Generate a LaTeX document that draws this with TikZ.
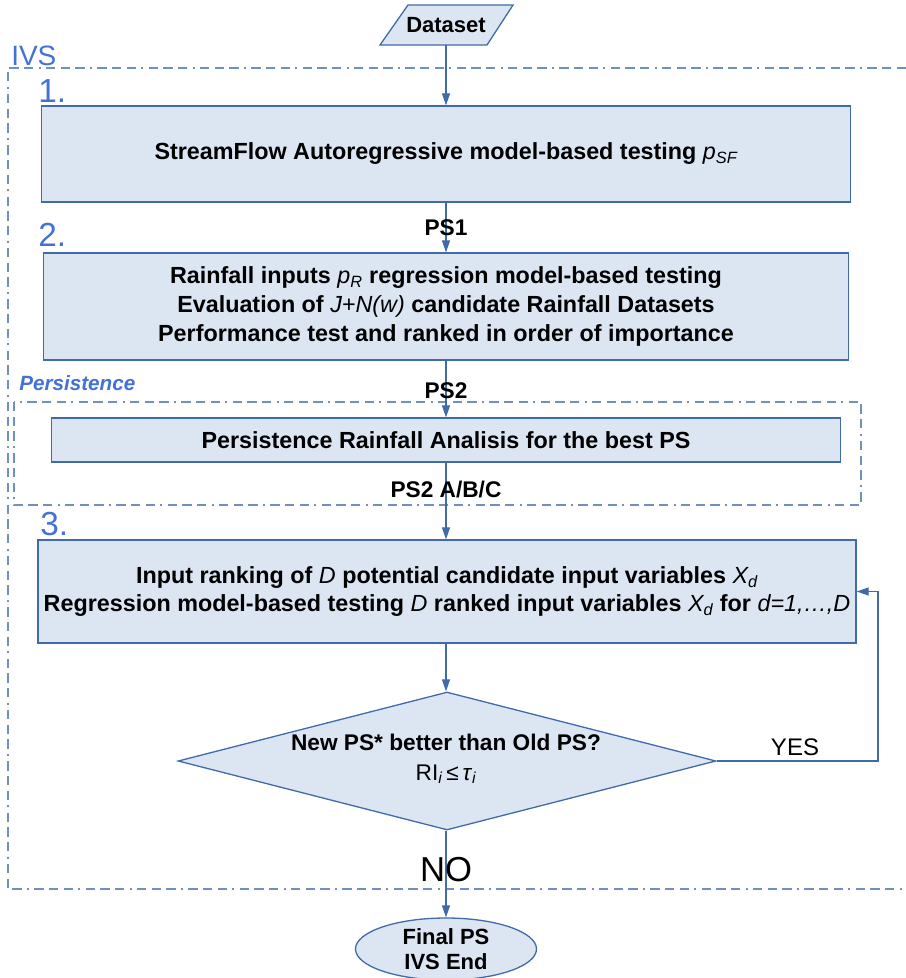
\documentclass[tikz,border=0pt]{standalone}
\usepackage{fontspec}
\setmainfont{Liberation Sans}
\usetikzlibrary{arrows.meta,shapes.geometric}
\newlength\upx \setlength\upx{0.75pt}
\definecolor{boxfill}{HTML}{DCE6F2}
\definecolor{boxline}{HTML}{416BA8}
\definecolor{lblblue}{HTML}{4471D8}
\definecolor{dashblue}{HTML}{7090C0}
\begin{document}
\begin{tikzpicture}[x=0.75pt,y=-0.75pt,
  box/.style={draw=boxline, fill=boxfill, line width=1.3\upx, inner sep=0pt, align=center,
    font=\bfseries\fontsize{17.5}{21.5}\selectfont},
  arr/.style={draw=boxline, line width=1.2\upx, -{Triangle[length=9pt,width=6pt]}},
  dashdot/.style={draw=dashblue, line width=1.4\upx,
    dash pattern=on 7pt off 4pt on 7pt off 4pt on 7pt off 4pt on 1.5pt off 4pt},
  lbl/.style={font=\bfseries\fontsize{17}{20}\selectfont, inner sep=0pt},
  numlbl/.style={text=lblblue, font=\fontsize{25}{25}\selectfont, inner sep=0pt, anchor=south west}
]
\useasboundingbox (0,0) rectangle (906,978);

% outer IVS frame (open at the right edge)
\draw[dashdot] (906,68) -- (8,68) -- (8,889) -- (906,889);
\node[text=lblblue, font=\fontsize{21}{21}\selectfont, inner sep=0pt, anchor=south west] (ivs) at (11,66) {IVS};

% persistence frame
\draw[dashdot] (14,402) rectangle (861,505);
\node[text=lblblue, font=\bfseries\itshape\fontsize{15.5}{16}\selectfont, inner sep=0pt, anchor=south west] (perslbl) at (19,391) {Persistence};

% dataset
\draw[draw=boxline, fill=boxfill, line width=1.3\upx] (408,5) -- (513,5) -- (487,45) -- (380,45) -- cycle;
\node[inner sep=0pt, minimum height=40\upx, font=\bfseries\fontsize{16.5}{20}\selectfont] (dataset) at (446,25) {Dataset};

% step numbers
\node[numlbl] (n1) at (38,103) {1.};
\node[numlbl] (n2) at (38,247) {2.};
\node[numlbl] (n3) at (40,536) {3.};

% boxes
\node[box, minimum width=809\upx, minimum height=96\upx] (b1) at (446,154)
  {StreamFlow Autoregressive model-based testing \textnormal{\itshape p\textsubscript{SF}}};
\node[box, minimum width=805\upx, minimum height=107\upx] (b2) at (446,306.5)
  {Rainfall inputs \textnormal{\itshape p\textsubscript{R}} regression model-based testing\\
   Evaluation of \textnormal{\itshape J+N(w)} candidate Rainfall Datasets\\
   Performance test and ranked in order of importance};
\node[box, minimum width=789\upx, minimum height=44\upx] (bp) at (446,440)
  {Persistence Rainfall Analisis for the best PS};
\node[box, minimum width=818\upx, minimum height=103\upx] (b3) at (447,591.5)
  {Input ranking of \textnormal{\itshape D} potential candidate input variables \textnormal{\itshape X\textsubscript{d}}\\
   Regression model-based testing \textnormal{\itshape D} ranked input variables \textnormal{\itshape X\textsubscript{d}} for \textnormal{\itshape d=1,\dots,D}};

% decision
\node[diamond, draw=boxline, fill=boxfill, line width=1.3\upx, inner sep=0pt,
  minimum width=538\upx, minimum height=138\upx] (dec) at (447,761) {};
\node[align=center, inner sep=0pt, font=\fontsize{17}{22}\selectfont] (dectxt) at (446,759)
  {\textbf{New PS* better than Old PS?}\\ RI\textsubscript{\itshape i}\,≤\,\textit{τ}\textsubscript{\itshape i}};

% end
\node[ellipse, draw=boxline, fill=boxfill, line width=1.3\upx, inner sep=0pt,
  minimum width=181\upx, minimum height=62\upx, align=center,
  font=\bfseries\fontsize{16.5}{19}\selectfont] (end) at (446,949) {Final PS\\IVS End};

% connectors
\draw[arr] (dataset.south) -- (b1.north -| dataset.south);
\draw[arr] (b1.south -| dataset.south) -- (b2.north -| dataset.south);
\draw[arr] (b2.south -| dataset.south) -- (bp.north -| dataset.south);
\draw[arr] (bp.south -| dataset.south) -- (b3.north -| dataset.south);
\draw[arr] (b3.south -| dataset.south) -- (dec.north -| dataset.south);
\draw[arr] (dec.south -| dataset.south) -- (end.north);
\coordinate (loop) at (878,761);
\draw[arr] (dec.east) -- (loop) |- (b3.east);

% edge labels
\node[lbl] (ps1) at (446,228) {PS1};
\node[lbl] (ps2) at (446,391) {PS2};
\node[lbl] (ps2abc) at (446,490) {PS2 A/B/C};
\node[inner sep=0pt, font=\fontsize{18}{18}\selectfont] (yes) at (795,747) {YES};
\node[inner sep=0pt, font=\fontsize{26}{26}\selectfont] (no) at (446,870) {NO};
\end{tikzpicture}
\end{document}
